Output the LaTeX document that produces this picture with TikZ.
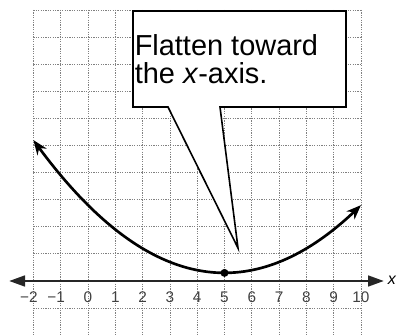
\documentclass[tikz,border=0pt]{standalone}
\usepackage{fontspec}
\setmainfont{Liberation Sans}
\usetikzlibrary{arrows.meta}
\begin{document}
\begin{tikzpicture}[x=0.75pt,y=-0.75pt,
 gridline/.style={black!50, line width=0.6pt, dash pattern=on 0.9pt off 0.9pt},
 axisline/.style={black!85, line width=2pt, {Triangle[length=12pt,width=8pt]}-{Triangle[length=12pt,width=8pt]}},
 curveline/.style={line width=2pt, {Stealth[length=11pt,width=8.5pt]}-{Stealth[length=11pt,width=8.5pt]}},
 ticklabel/.style={font=\fontsize{11.5pt}{12pt}\selectfont, text=black!75, inner sep=0},
 callout/.style={draw, fill=white, line width=1.2pt, line join=miter},
 callouttext/.style={font=\fontsize{21.7pt}{20.5pt}\selectfont, inner sep=0, anchor=base west}]
\useasboundingbox (0,0) rectangle (397,335);
% grid
\foreach \i in {-2,...,10} \draw[gridline] ({88+27.3*\i},10) -- ({88+27.3*\i},340);
\foreach \j in {0,...,12} \draw[gridline] (33.4,{10+27.1*\j}) -- (361,{10+27.1*\j});
% axis
\coordinate (axL) at (9,281);
\coordinate (axR) at (384,281);
\draw[axisline] (axL) -- (axR);
\foreach \i in {-2,-1} \node[ticklabel] (t\i) at ({88+27.3*\i},297) {\llap{−}\the\numexpr-\i\relax};
\foreach \i in {0,...,10} \node[ticklabel] (t\i) at ({88+27.3*\i},297) {\i};
\node[font=\fontsize{12pt}{14pt}\selectfont\itshape, anchor=west, inner sep=0] (xlab) at (387.5,280) {x};
% curve
\draw[curveline] plot[domain=-2:10, samples=80] ({88+27.3*\x},{281-27.1*(0.1*(\x-5)^2+0.3)});
\node[circle, fill, inner sep=0, minimum size=6pt] (vertex) at (224.5,272.9) {};
% callout
\coordinate (tip) at (238,248);
\draw[callout] (133,11) -- (346,11) -- (346,107) -- (220,107) -- (tip) -- (168,107) -- (133,107) -- cycle;
\node[callouttext] (line1) at (134.5,56) {Flatten toward};
\node[callouttext] (line2) at (134.5,83.3) {the \textit{x}-axis.};
\end{tikzpicture}
\end{document}
